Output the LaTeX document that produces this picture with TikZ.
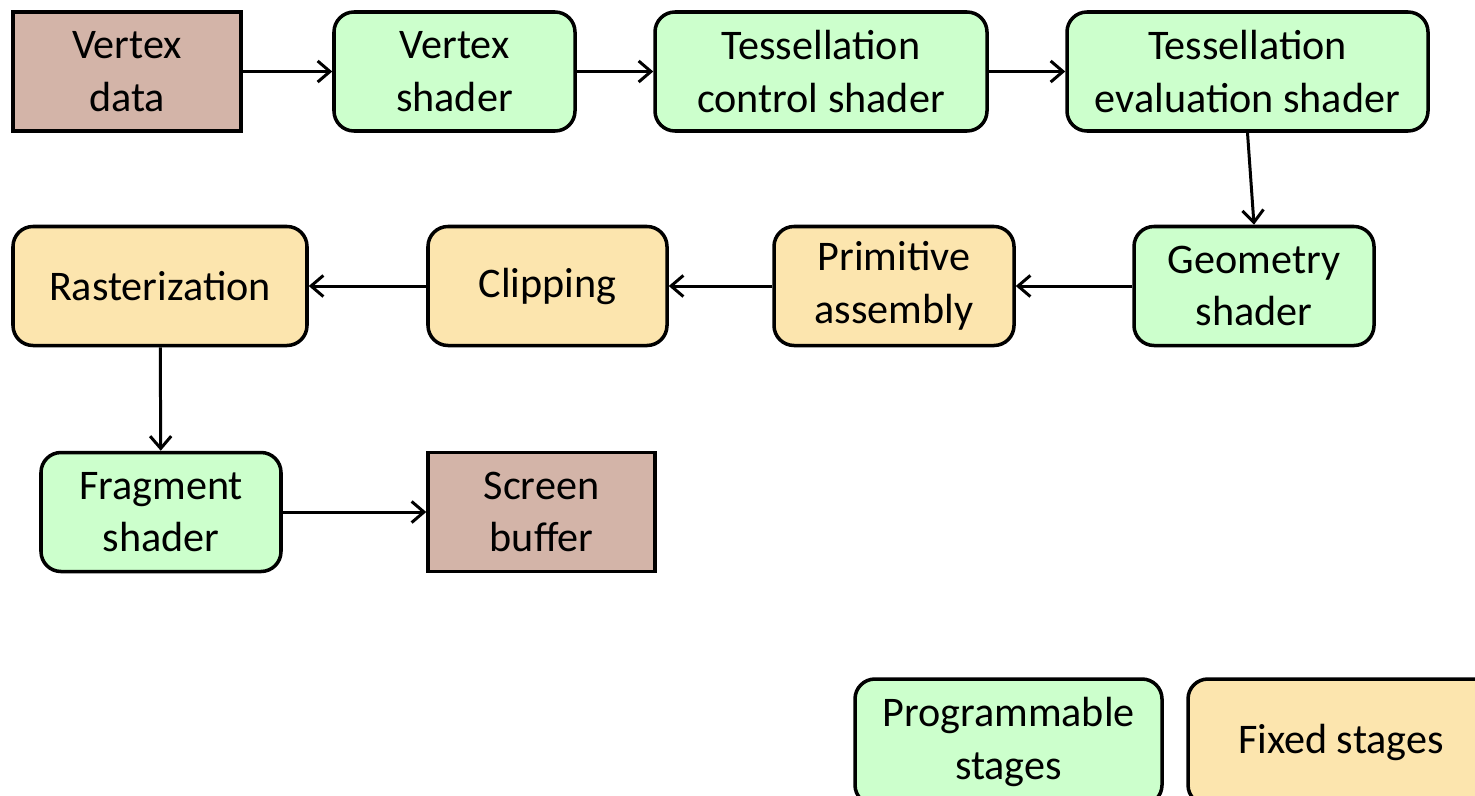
\documentclass[tikz,border=0pt]{standalone}
\usepackage{xcolor}
\usepackage{fontspec}
\setmainfont{Carlito}
\usepackage{tikz}
\usetikzlibrary{arrows.meta}
\definecolor{pipegreen}{HTML}{CCFFCC}
\definecolor{pipepeach}{HTML}{FCE5AE}
\definecolor{pipebrown}{HTML}{D3B4A8}

\tikzset{
  stage/.style={draw=black, line width=2pt, align=center, inner sep=0pt,
    minimum height=2.38cm, font=\fontsize{24}{30}\selectfont},
  progbox/.style={stage, fill=pipegreen, rounded corners=0.4cm},
  fixbox/.style={stage, fill=pipepeach, rounded corners=0.4cm},
  databox/.style={stage, fill=pipebrown},
  flow/.style={draw=black, line width=1.7pt, -{Straight Barb[length=7pt, width=12pt, line width=1.7pt]}}
}

\begin{document}
\begin{tikzpicture}
  % OpenGL pipeline stages
  \useasboundingbox (0,0) rectangle (29.5,-15.9);
  \node[databox, minimum width=4.56cm] (vdata) at (2.54,-1.43) {Vertex\\data};
  \node[progbox, minimum width=4.82cm] (vshader) at (9.09,-1.43) {Vertex\\shader};
  \node[progbox, minimum width=6.64cm] (tcs) at (16.42,-1.43) {Tessellation\\control shader};
  \node[progbox, minimum width=7.22cm] (tes) at (24.95,-1.43) {Tessellation\\evaluation shader};
  \node[progbox, minimum width=4.8cm] (geom) at (25.08,-5.72) {Geometry\\shader};
  \node[fixbox, minimum width=4.8cm] (prim) at (17.88,-5.72) {Primitive\\assembly};
  \node[fixbox, minimum width=4.78cm] (clip) at (10.95,-5.72) {Clipping};
  \node[fixbox, minimum width=5.88cm] (raster) at (3.2,-5.72) {Rasterization};
  \node[progbox, minimum width=4.8cm] (frag) at (3.22,-10.24) {Fragment\\shader};
  \node[databox, minimum width=4.54cm] (screen) at (10.83,-10.24) {Screen\\buffer};

  \draw[flow] (vdata) -- (vshader);
  \draw[flow] (vshader) -- (tcs);
  \draw[flow] (tcs) -- (tes);
  \draw[flow] (tes.south) -- (geom.north);
  \draw[flow] (geom) -- (prim);
  \draw[flow] (prim) -- (clip);
  \draw[flow] (clip) -- (raster);
  \draw[flow] (raster) -- (frag);
  \draw[flow] (frag) -- (screen);

  % legend
  \node[progbox, minimum width=6.14cm, minimum height=2.52cm] (legprog) at (20.17,-14.84) {Programmable\\stages};
  \node[fixbox, minimum width=6.12cm, minimum height=2.52cm] (legfix) at (26.82,-14.84) {Fixed stages};
\end{tikzpicture}
\end{document}
